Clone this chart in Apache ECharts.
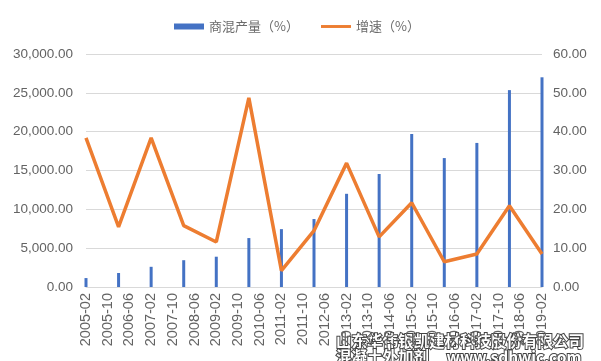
<!DOCTYPE html>
<html><head><meta charset="utf-8">
<script src="https://cdn.jsdelivr.net/npm/echarts@6/dist/echarts.min.js"></script>
<style>html,body{margin:0;padding:0;background:#fff}#c{width:601px;height:361px}</style>
</head><body><div id="c"></div>
<script>
const years = [2005,2006,2007,2008,2009,2010,2011,2012,2013,2014,2015,2016,2017,2018,2019];
const production = [1150,1800,2600,3450,3900,6300,7450,8750,12000,14550,19700,16600,18550,25350,27000];
const growth = [38.4,15.5,38.4,15.8,11.6,48.7,4.2,14.5,31.9,12.9,21.7,6.5,8.5,20.9,8.5];
const leftTicks = {min:0, max:30000, interval:5000};
const rightTicks = {min:0, max:60, interval:10};
const startYear = 2005, startMonth = 2, labelStepMonths = 8;

const toX = y => (y - startYear) * 12;
const fmtMonth = v => {
  const t = startYear * 12 + (startMonth - 1) + Math.round(v);
  const y = Math.floor(t / 12), m = t % 12 + 1;
  return y + '-' + (m < 10 ? '0' + m : m);
};
const fmtNum = v => v.toLocaleString('en-US', {minimumFractionDigits:2, maximumFractionDigits:2});
const font = 'Liberation Sans';
const lab = {color:'#636363', fontSize:13.5, fontFamily:font};

const chart = echarts.init(document.getElementById('c'), null, {renderer:'canvas'});
chart.setOption({
  animation:false,
  backgroundColor:'#fff',
  grid:{left:86, right:59, top:54, bottom:74, containLabel:false},
  legend:{
    left:169, top:15, itemGap:22, itemWidth:30, itemHeight:8,
    textStyle:{color:'#6b6b6b', fontSize:13, fontFamily:'Noto Sans CJK SC'},
    data:[
      {name:'商混产量（%）', icon:'path://M0 0H30V6H0Z'},
      {name:'增速（%）', icon:'path://M0 0H36V3.5H0Z'}
    ]
  },
  xAxis:{
    type:'value', min:0, max:toX(years[years.length-1]), interval:labelStepMonths,
    axisLine:{show:true, lineStyle:{color:'#d9d9d9'}},
    axisTick:{show:false}, splitLine:{show:false},
    axisLabel:Object.assign({}, lab, {rotate:90, margin:6, fontSize:14.5, formatter:fmtMonth})
  },
  yAxis:[
    {type:'value', min:leftTicks.min, max:leftTicks.max, interval:leftTicks.interval,
     axisLine:{show:false}, axisTick:{show:false},
     splitLine:{lineStyle:{color:'#d9d9d9'}},
     axisLabel:Object.assign({margin:13, formatter:fmtNum}, lab)},
    {type:'value', min:rightTicks.min, max:rightTicks.max, interval:rightTicks.interval,
     axisLine:{show:false}, axisTick:{show:false}, splitLine:{show:false},
     axisLabel:Object.assign({margin:11, formatter:v=>v.toFixed(2)}, lab)}
  ],
  series:[
    {name:'商混产量（%）', type:'bar', yAxisIndex:0, barWidth:3,
     itemStyle:{color:'#4472C4'},
     data:years.map((y,i)=>[toX(y), production[i]])},
    {name:'增速（%）', type:'line', yAxisIndex:1, symbol:'none',
     lineStyle:{color:'#ED7D31', width:3.5}, itemStyle:{color:'#ED7D31'},
     data:years.map((y,i)=>[toX(y), growth[i]])}
  ],
  graphic:[
    {type:'text', left:335, top:332, style:{text:'山东华伟银凯建材科技股份有限公司', fill:'#fff', stroke:'#444', lineWidth:2, font:'bold 15.5px "Noto Sans CJK SC"'}},
    {type:'text', left:335, top:348, style:{text:'混凝土外加剂     www.sdhwjc.com', fill:'#fff', stroke:'#444', lineWidth:2, font:'bold 15.5px "Noto Sans CJK SC"'}}
  ]
});
</script></body></html>
